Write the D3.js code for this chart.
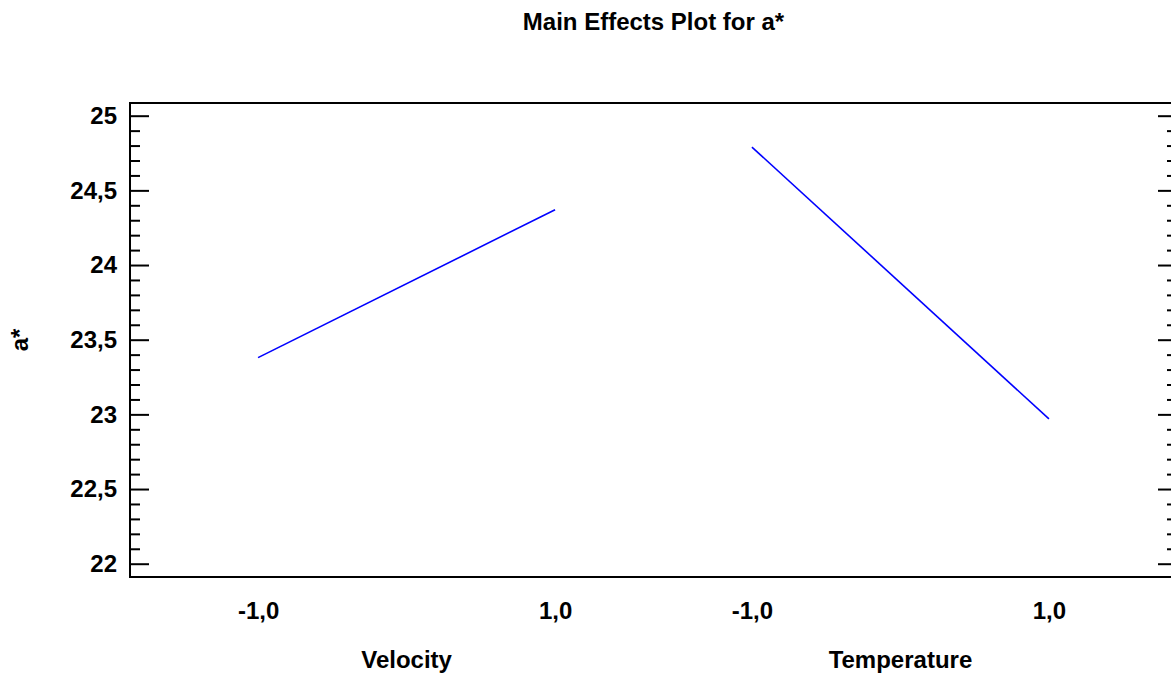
<!DOCTYPE html>
<html>
<head>
<meta charset="utf-8">
<script src="https://cdn.jsdelivr.net/npm/d3@7"></script>
<style>
  html, body { margin: 0; padding: 0; background: #fff; }
  svg { display: block; }
  text { font-family: "Liberation Sans", Arial, sans-serif; font-weight: bold; fill: #000; }
</style>
</head>
<body>
<svg id="chart" width="1171" height="677"></svg>
<script>
// Factors and their coded levels
const factors = ["Velocity", "Temperature"];
const levels = [-1, 1];
// Mean response a* at the low and high level of each factor
const velocityMeans = [23.38, 24.37];
const temperatureMeans = [24.79, 22.97];
// Y axis ticks
const yMajorTicks = [22, 22.5, 23, 23.5, 24, 24.5, 25];
const yMinorTicks = [22.1, 22.2, 22.3, 22.4, 22.6, 22.7, 22.8, 22.9,
                     23.1, 23.2, 23.3, 23.4, 23.6, 23.7, 23.8, 23.9,
                     24.1, 24.2, 24.3, 24.4, 24.6, 24.7, 24.8, 24.9];

const seriesValues = [velocityMeans, temperatureMeans];

const svg = d3.select("#chart");
const frame = { left: 130, right: 1177, top: 103, bottom: 577 };

const locale = d3.formatLocale({ decimal: ",", thousands: ".", grouping: [3], currency: ["", ""], minus: "-" });
const fmtY = locale.format("~g");
const fmtX = locale.format(".1f");

const y = d3.scaleLinear().domain([21.911, 25.085]).range([frame.bottom, frame.top]);

// One slot per factor, each with its own level scale
const slot = d3.scalePoint().domain(factors).range([frame.left, frame.right]).padding(0.56);
const halfWidth = 148.5;
const levelScale = f => d3.scaleLinear().domain([-1, 1])
  .range([slot(f) - halfWidth, slot(f) + halfWidth]);

// Frame
svg.append("rect")
  .attr("x", frame.left).attr("y", frame.top)
  .attr("width", frame.right - frame.left).attr("height", frame.bottom - frame.top)
  .attr("fill", "none").attr("stroke", "#000").attr("stroke-width", 2);

// Left axis: major ticks with labels, minor ticks without
const leftMajor = svg.append("g").attr("transform", `translate(${frame.left},0)`)
  .call(d3.axisLeft(y).tickValues(yMajorTicks).tickSize(-19).tickPadding(13).tickFormat(fmtY));
const leftMinor = svg.append("g").attr("transform", `translate(${frame.left},0)`)
  .call(d3.axisLeft(y).tickValues(yMinorTicks).tickSize(-10).tickFormat(""));
// Right axis: mirrored ticks
const rightMajor = svg.append("g").attr("transform", `translate(${frame.right},0)`)
  .call(d3.axisRight(y).tickValues(yMajorTicks).tickSize(-19).tickFormat(""));
const rightMinor = svg.append("g").attr("transform", `translate(${frame.right},0)`)
  .call(d3.axisRight(y).tickValues(yMinorTicks).tickSize(-10).tickFormat(""));

[leftMajor, leftMinor, rightMajor, rightMinor].forEach(g => {
  g.select(".domain").remove();
  g.selectAll(".tick line").attr("stroke", "#000").attr("stroke-width", 2);
});
leftMajor.selectAll(".tick text")
  .attr("font-family", "Liberation Sans, Arial, sans-serif")
  .attr("font-size", 24).attr("font-weight", "bold").attr("fill", "#000");

// Bottom axis per factor: level labels and factor name
factors.forEach((f, i) => {
  const xs = levelScale(f);
  const g = svg.append("g").attr("transform", `translate(0,${frame.bottom})`)
    .call(d3.axisBottom(xs).tickValues(levels).tickSize(0).tickPadding(25).tickFormat(fmtX));
  g.select(".domain").remove();
  g.selectAll(".tick text")
    .attr("font-family", "Liberation Sans, Arial, sans-serif")
    .attr("font-size", 24).attr("font-weight", "bold").attr("fill", "#000");

  svg.append("text")
    .attr("x", slot(f)).attr("y", 668)
    .attr("text-anchor", "middle").attr("font-size", 24)
    .text(f);

  const line = d3.line().x((d, j) => xs(levels[j])).y(d => y(d));
  svg.append("path")
    .datum(seriesValues[i])
    .attr("d", line)
    .attr("fill", "none")
    .attr("stroke", "#0000ff")
    .attr("stroke-width", 1.6);
});

// Title
svg.append("text")
  .attr("x", (frame.left + frame.right) / 2).attr("y", 30)
  .attr("text-anchor", "middle").attr("font-size", 24)
  .text("Main Effects Plot for a*");

// Y axis title
svg.append("text")
  .attr("transform", `translate(28,${(frame.top + frame.bottom) / 2}) rotate(-90)`)
  .attr("text-anchor", "middle").attr("font-size", 24)
  .text("a*");
</script>
</body>
</html>
